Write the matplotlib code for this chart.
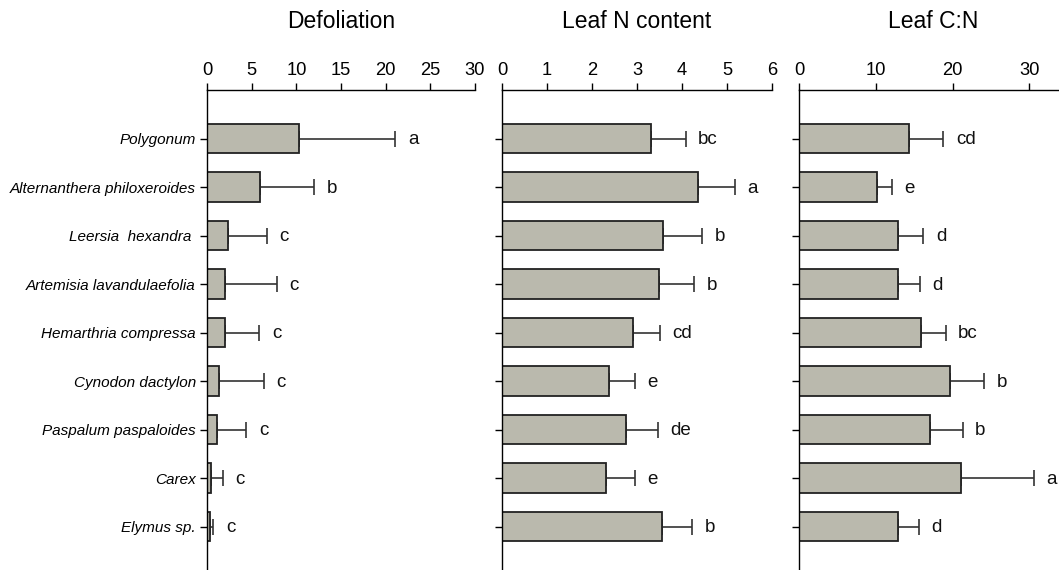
import numpy as np
import matplotlib
matplotlib.use("Agg")
import matplotlib.pyplot as plt

plt.rcParams['font.family'] = ['Liberation Sans', 'DejaVu Sans']

species = ["Polygonum", "Alternanthera philoxeroides", "Leersia  hexandra ",
           "Artemisia lavandulaefolia", "Hemarthria compressa", "Cynodon dactylon",
           "Paspalum paspaloides", "Carex", "Elymus sp."]

# mean and upper error bar end for each trait
defol_mean = [10.3, 5.97, 2.4, 2.05, 1.98, 1.38, 1.08, 0.45, 0.33]
defol_top = [21.1, 12.0, 6.7, 7.8, 5.86, 6.34, 4.4, 1.75, 0.7]
defol_letters = ["a", "b", "c", "c", "c", "c", "c", "c", "c"]

leafn_mean = [3.32, 4.36, 3.57, 3.48, 2.92, 2.37, 2.76, 2.30, 3.55]
leafn_top = [4.08, 5.17, 4.45, 4.27, 3.50, 2.95, 3.46, 2.96, 4.23]
leafn_letters = ["bc", "a", "b", "b", "cd", "e", "de", "e", "b"]

cn_mean = [14.3, 10.16, 12.85, 12.9, 15.85, 19.7, 17.1, 21.1, 12.9]
cn_top = [18.8, 12.1, 16.2, 15.75, 19.1, 24.1, 21.3, 30.6, 15.6]
cn_letters = ["cd", "e", "d", "d", "bc", "b", "b", "a", "d"]

titles = ["Defoliation", "Leaf N content", "Leaf C:N"]
xlims = [30, 6, 35]
xticks = [np.arange(0, 31, 5), np.arange(0, 7, 1), np.arange(0, 31, 10)]

panels = [
    (defol_mean, defol_top, defol_letters),
    (leafn_mean, leafn_top, leafn_letters),
    (cn_mean, cn_top, cn_letters),
]

W, H = 1059, 570
fig = plt.figure(figsize=(W / 100, H / 100), dpi=100)

# axes boxes in pixels: left, width
boxes = [(207, 268), (502, 270), (799, 268.8)]
top_px, bottom_px = 90, 575

bar_color = "#bab9ad"
pos = np.arange(1, len(species) + 1)

for i, ((mean, top, letters), (left, width)) in enumerate(zip(panels, boxes)):
    ax = fig.add_axes([left / W, 1 - bottom_px / H, width / W, (bottom_px - top_px) / H])
    mean = np.array(mean)
    err = np.array(top) - mean
    ax.barh(pos, mean, height=0.6, color=bar_color, edgecolor="#222222",
            linewidth=1.3, zorder=2)
    ax.errorbar(mean, pos, xerr=[np.zeros_like(err), err], fmt="none",
                ecolor="#333333", elinewidth=1.2, capsize=5.5, capthick=1.2,
                zorder=1)
    for y, x, lab in zip(pos, top, letters):
        ax.annotate(lab, (x, y), xytext=(9, -1), textcoords="offset points",
                    ha="left", va="center", fontsize=13.5, color="#111111")

    ax.set_xlim(0, xlims[i])
    ax.set_ylim(len(species) + 1, 0)
    ax.set_xticks(xticks[i])
    ax.xaxis.tick_top()
    ax.tick_params(axis="x", direction="out", length=5, width=1,
                   labelsize=13.2, pad=3)
    ax.set_yticks(pos)
    ax.tick_params(axis="y", direction="out", length=5, width=1, pad=3)
    if i == 0:
        ax.set_yticklabels(species, fontsize=11, style="italic")
    else:
        ax.set_yticklabels([])
    for side in ["bottom", "right"]:
        ax.spines[side].set_visible(False)
    for side in ["top", "left"]:
        ax.spines[side].set_linewidth(1.0)
    ax.set_facecolor("none")

    fig.text((left + width / 2) / W, 1 - 22 / H, titles[i], ha="center",
             va="center", fontsize=16.5)

fig.savefig("out.png", dpi=100)
